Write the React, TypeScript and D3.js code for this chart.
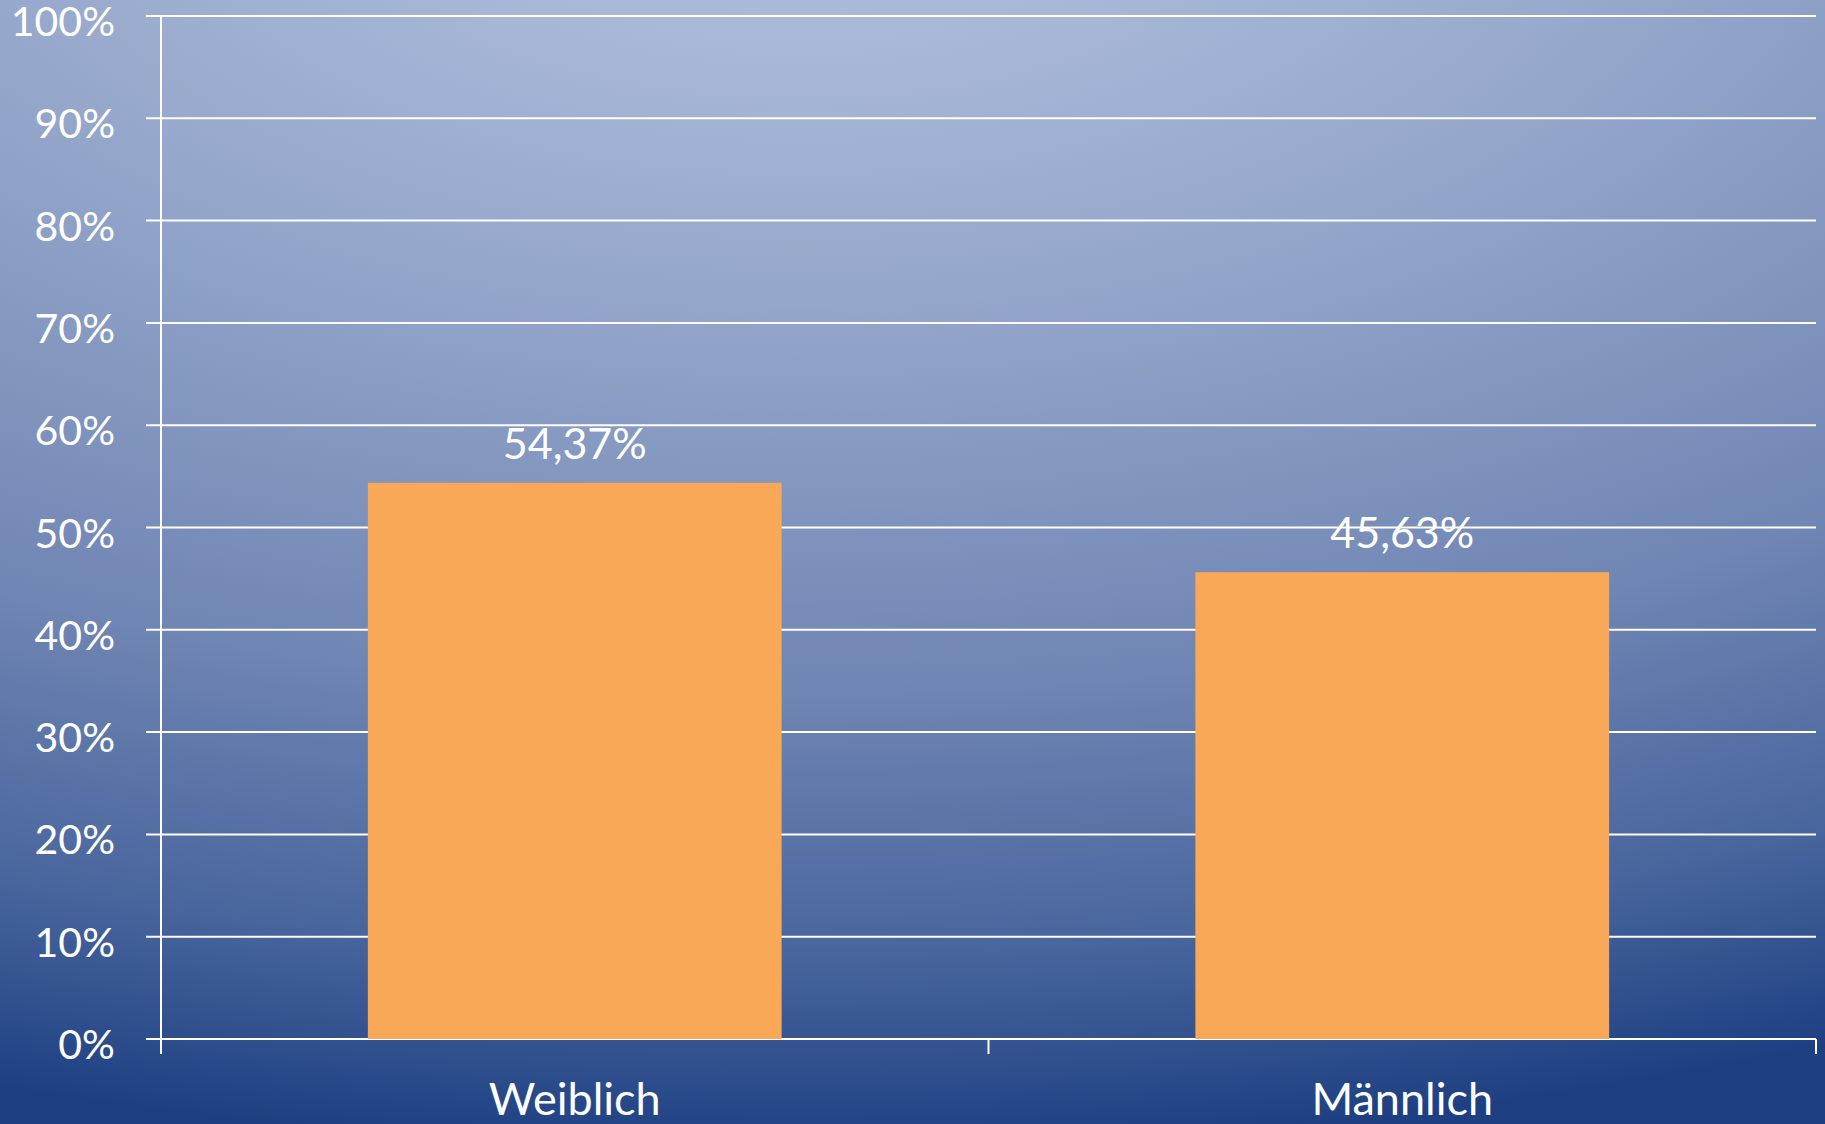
import React, { useEffect, useRef } from 'react';
import * as d3 from 'd3';

const categories = ['Weiblich', 'Männlich'];
const values = [54.37, 45.63];
const valueLabels = ['54,37%', '45,63%'];
const yTicks = [0, 10, 20, 30, 40, 50, 60, 70, 80, 90, 100];

const W = 1825;
const H = 1124;

export default function App() {
  const svgRef = useRef<SVGSVGElement>(null);

  useEffect(() => {
    if (!svgRef.current) return;
    const svg = d3.select(svgRef.current);
    svg.selectAll('*').remove();

    const margin = { top: 16, right: 9, bottom: 85, left: 161 };
    const innerW = W - margin.left - margin.right;
    const innerH = H - margin.top - margin.bottom;
    const font = 'Lato, "Open Sans", sans-serif';

    // background: light at the top, dark blue towards the bottom
    const defs = svg.append('defs');
    const grad = defs.append('radialGradient')
      .attr('id', 'bg')
      .attr('gradientUnits', 'userSpaceOnUse')
      .attr('cx', 800).attr('cy', -150).attr('r', 1300)
      .attr('gradientTransform', 'translate(800,-150) scale(2,1) translate(-800,150)');
    const stops: [number, string][] = [
      [0, '#b0bedc'],
      [0.15, '#a9b8d8'],
      [0.35, '#94a6ca'],
      [0.65, '#6f85b3'],
      [0.85, '#48659d'],
      [1, '#1e4082'],
    ];
    stops.forEach(([o, c]) => grad.append('stop').attr('offset', o).attr('stop-color', c));
    svg.append('rect').attr('width', W).attr('height', H).attr('fill', 'url(#bg)');

    const x = d3.scaleBand<string>().domain(categories).range([0, innerW]).paddingInner(0).paddingOuter(0);
    const y = d3.scaleLinear().domain([0, 100]).range([innerH, 0]);

    const g = svg.append('g').attr('transform', `translate(${margin.left},${margin.top})`);

    // gridlines with left ticks
    g.selectAll('.grid')
      .data(yTicks)
      .enter()
      .append('line')
      .attr('x1', -15)
      .attr('x2', innerW)
      .attr('y1', d => y(d))
      .attr('y2', d => y(d))
      .attr('stroke', '#fff')
      .attr('stroke-width', 2);

    // y axis line
    g.append('line')
      .attr('x1', 0).attr('x2', 0)
      .attr('y1', 0).attr('y2', innerH + 15)
      .attr('stroke', '#fff').attr('stroke-width', 2);

    // category boundary ticks
    const boundaries = [...categories.map(c => x(c) || 0), innerW];
    g.selectAll('.ctick')
      .data(boundaries.slice(1))
      .enter()
      .append('line')
      .attr('x1', d => d).attr('x2', d => d)
      .attr('y1', innerH).attr('y2', innerH + 15)
      .attr('stroke', '#fff').attr('stroke-width', 2);

    // tick labels
    g.selectAll('.ylabel')
      .data(yTicks)
      .enter()
      .append('text')
      .attr('x', -46)
      .attr('y', d => y(d) + 20)
      .attr('text-anchor', 'end')
      .attr('fill', '#fff')
      .style('font-family', font)
      .style('font-size', '41px')
      .text(d => `${d}%`);

    // bars
    const bw = x.bandwidth() * 0.5;
    g.selectAll('.bar')
      .data(values)
      .enter()
      .append('rect')
      .attr('x', (_, i) => (x(categories[i]) || 0) + x.bandwidth() / 2 - bw / 2)
      .attr('y', d => y(d))
      .attr('width', bw)
      .attr('height', d => innerH - y(d))
      .attr('fill', '#f9a857');

    // value labels
    g.selectAll('.vlabel')
      .data(values)
      .enter()
      .append('text')
      .attr('x', (_, i) => (x(categories[i]) || 0) + x.bandwidth() / 2)
      .attr('y', d => y(d) - 24)
      .attr('text-anchor', 'middle')
      .attr('fill', '#fff')
      .style('font-family', font)
      .style('font-size', '43px')
      .text((_, i) => valueLabels[i]);

    // category labels
    g.selectAll('.xlabel')
      .data(categories)
      .enter()
      .append('text')
      .attr('x', d => (x(d) || 0) + x.bandwidth() / 2)
      .attr('y', innerH + 76)
      .attr('text-anchor', 'middle')
      .attr('fill', '#fff')
      .style('font-family', font)
      .style('font-size', '45px')
      .text(d => d);
  }, []);

  return (
    <div style={{ position: 'absolute', left: 0, top: 0, width: W, height: H, overflow: 'hidden' }}>
      <svg ref={svgRef} width={W} height={H} style={{ display: 'block' }} />
    </div>
  );
}
